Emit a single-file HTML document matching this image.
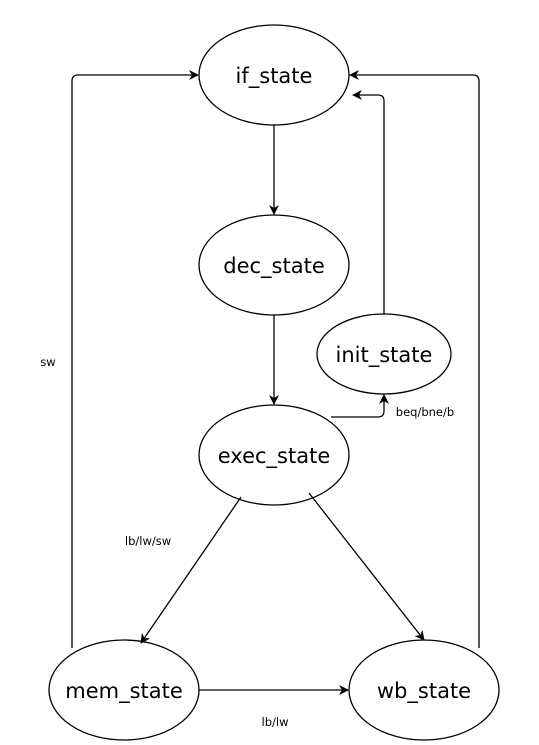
<!DOCTYPE html>
<html><head><style>body{margin:0;background:#fff}</style></head><body>
<svg width="539" height="745" viewBox="0 0 539 745" xmlns="http://www.w3.org/2000/svg" style="display:block">
<defs><marker id="a" markerWidth="10" markerHeight="10" refX="9" refY="5" orient="auto" markerUnits="userSpaceOnUse"><path d="M0,0 L10,5 L0,10 L3,5 Z" fill="#000"/></marker></defs>
<g fill="none" stroke="#000" stroke-width="1.3">
<ellipse cx="274" cy="75" rx="75" ry="50"/>
<ellipse cx="274" cy="265" rx="75" ry="50"/>
<ellipse cx="384" cy="354" rx="67" ry="40"/>
<ellipse cx="274" cy="455" rx="75" ry="50"/>
<ellipse cx="124" cy="690" rx="75" ry="50"/>
<ellipse cx="424" cy="690" rx="75" ry="50"/>
<path d="M274 125 V214" marker-end="url(#a)"/>
<path d="M274 315 V404" marker-end="url(#a)"/>
<path d="M331 417 H378 Q384 417 384 411 V395" marker-end="url(#a)"/>
<path d="M384 314 V101 Q384 95 378 95 H353" marker-end="url(#a)"/>
<path d="M479 648 V81 Q479 75 473 75 H350" marker-end="url(#a)"/>
<path d="M72 648 V81 Q72 75 78 75 H198" marker-end="url(#a)"/>
<path d="M241 497 L141 643" marker-end="url(#a)"/>
<path d="M309 493 L424 640" marker-end="url(#a)"/>
<path d="M199 690 H348" marker-end="url(#a)"/>
</g>
<g font-family="'DejaVu Sans', sans-serif" fill="#000" text-anchor="middle">
<g font-size="21"><text x="274" y="83">if_state</text><text x="274" y="273">dec_state</text><text x="384" y="362">init_state</text><text x="274" y="463">exec_state</text><text x="124" y="698">mem_state</text><text x="424" y="698">wb_state</text></g>
<g font-size="11.5"><text x="48" y="366">sw</text><text x="148" y="545">lb/lw/sw</text><text x="425" y="416">beq/bne/b</text><text x="275" y="726">lb/lw</text></g>
</g>
</svg>
</body></html>
